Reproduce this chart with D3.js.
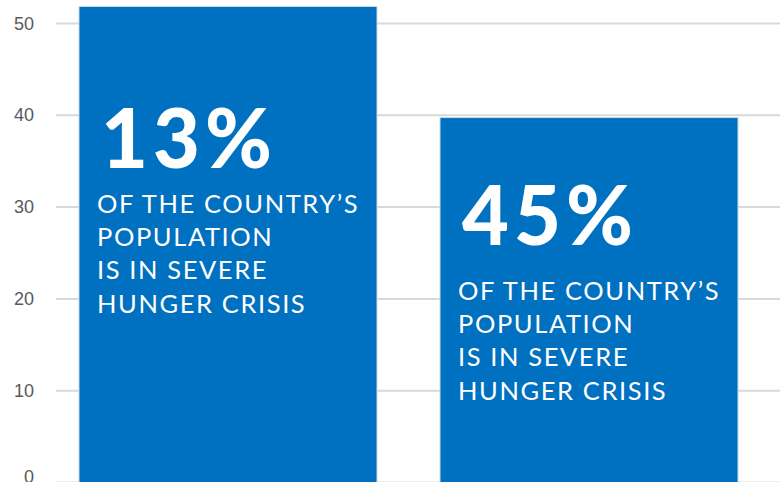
<!DOCTYPE html>
<html>
<head>
<meta charset="utf-8">
<script src="https://cdn.jsdelivr.net/npm/d3@7"></script>
<style>
  body { margin: 0; background: #fff; }
  svg { display: block; }
</style>
</head>
<body>
<div id="chart"></div>
<script>
// data
var categories = ['Country A', 'Country B'];
var values = [51.8, 39.7];
var bigLabels = ['13%', '45%'];
var subLabel = ['OF THE COUNTRY\u2019S', 'POPULATION', 'IS IN SEVERE', 'HUNGER CRISIS'];
var yTicks = [0, 10, 20, 30, 40, 50];

var width = 780, height = 482;

var svg = d3.select('#chart').append('svg')
  .attr('width', width)
  .attr('height', height);

var y = d3.scaleLinear().domain([0, 50]).range([482, 23]);
var x = d3.scaleBand()
  .domain(categories)
  .range([56, 761])
  .paddingInner(0.1745)
  .paddingOuter(0.0637);

// grid + tick labels
var yAxis = d3.axisLeft(y)
  .tickValues(yTicks)
  .tickSize(-(width - 56))
  .tickPadding(22)
  .tickFormat(d3.format('d'));

var gAxis = svg.append('g')
  .attr('transform', 'translate(56,0)')
  .attr('font-size', 18)
  .attr('font-family', '"Open Sans", sans-serif')
  .call(yAxis);
gAxis.select('.domain').remove();
gAxis.selectAll('.tick line')
  .attr('stroke', '#d9d9d9')
  .attr('stroke-width', 2);
gAxis.selectAll('.tick text')
  .attr('fill', '#595959')
  .attr('font-size', 18)
  .attr('dy', function(d) { return d === 0 ? '0.05em' : '0.34em'; });

// bars
svg.selectAll('rect.bar')
  .data(values)
  .enter().append('rect')
  .attr('class', 'bar')
  .attr('x', function(d, i) { return x(categories[i]); })
  .attr('y', function(d) { return y(d); })
  .attr('width', x.bandwidth())
  .attr('height', function(d) { return y(0) - y(d) + 2; })
  .attr('fill', '#0070c0')
  .attr('stroke', '#c9dcec')
  .attr('stroke-width', 1);

// labels inside bars: baseline of big number, baseline of first sub line
var bigBase = [168, 245];
var subBase = [213, 300];

var labels = svg.selectAll('g.lbl')
  .data(bigLabels)
  .enter().append('g')
  .attr('class', 'lbl')
  .attr('transform', function(d, i) {
    return 'translate(' + (x(categories[i]) + 18) + ',0)';
  });

labels.append('text')
  .attr('x', 4)
  .attr('y', function(d, i) { return bigBase[i]; })
  .attr('fill', '#fff')
  .style('font-family', 'Lato, sans-serif')
  .style('font-weight', 900)
  .style('font-size', '81px')
  .style('letter-spacing', '5px')
  .text(function(d) { return d; });

labels.each(function(d, i) {
  d3.select(this).selectAll('text.sub')
    .data(subLabel)
    .enter().append('text')
    .attr('class', 'sub')
    .attr('x', 0)
    .attr('y', function(s, j) { return subBase[i] + j * 33.2; })
    .attr('fill', '#fff')
    .style('font-family', 'Lato, sans-serif')
    .style('font-size', '25.5px')
    .style('letter-spacing', '1.6px')
    .text(function(s) { return s; });
});
</script>
</body>
</html>
